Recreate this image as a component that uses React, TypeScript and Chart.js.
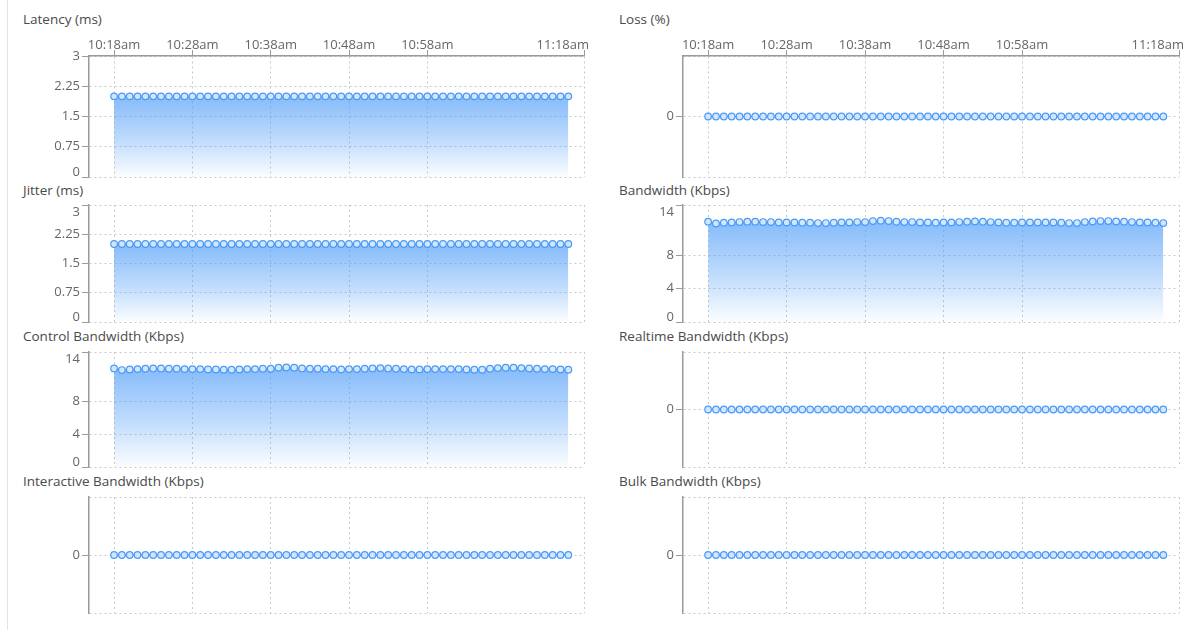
import React, { useEffect, useRef } from "react";
import { Chart, registerables } from "chart.js";

Chart.register(...registerables);

// ---------- data ----------
const times: string[] = [
  "10:18", "10:19", "10:20", "10:21", "10:22", "10:23", "10:24", "10:25", "10:26", "10:27",
  "10:28", "10:29", "10:30", "10:31", "10:32", "10:33", "10:34", "10:35", "10:36", "10:37",
  "10:38", "10:39", "10:40", "10:41", "10:42", "10:43", "10:44", "10:45", "10:46", "10:47",
  "10:48", "10:49", "10:50", "10:51", "10:52", "10:53", "10:54", "10:55", "10:56", "10:57",
  "10:58", "10:59", "11:00", "11:01", "11:02", "11:03", "11:04", "11:05", "11:06", "11:07",
  "11:08", "11:09", "11:10", "11:11", "11:12", "11:13", "11:14", "11:15", "11:16",
];

const xTickLabels: string[] = ["10:18am", "10:28am", "10:38am", "10:48am", "10:58am", "11:18am"];

const latencyValues: number[] = [
  2, 2, 2, 2, 2, 2, 2, 2, 2, 2, 2, 2, 2, 2, 2, 2, 2, 2, 2, 2,
  2, 2, 2, 2, 2, 2, 2, 2, 2, 2, 2, 2, 2, 2, 2, 2, 2, 2, 2, 2,
  2, 2, 2, 2, 2, 2, 2, 2, 2, 2, 2, 2, 2, 2, 2, 2, 2, 2, 2,
];

const jitterValues: number[] = [
  2, 2, 2, 2, 2, 2, 2, 2, 2, 2, 2, 2, 2, 2, 2, 2, 2, 2, 2, 2,
  2, 2, 2, 2, 2, 2, 2, 2, 2, 2, 2, 2, 2, 2, 2, 2, 2, 2, 2, 2,
  2, 2, 2, 2, 2, 2, 2, 2, 2, 2, 2, 2, 2, 2, 2, 2, 2, 2, 2,
];

const controlBandwidthValues: number[] = [
  12.0, 11.8, 11.88, 11.92, 11.96, 12.0, 12.0, 11.96, 11.96, 11.92,
  11.92, 11.92, 11.88, 11.88, 11.84, 11.84, 11.88, 11.92, 11.92, 11.96,
  11.96, 12.08, 12.12, 12.08, 12.0, 11.96, 11.96, 11.92, 11.92, 11.88,
  11.92, 11.92, 11.96, 12.0, 12.04, 12.0, 11.96, 11.92, 11.88, 11.88,
  11.92, 11.92, 11.92, 11.92, 11.92, 11.88, 11.84, 11.84, 11.96, 12.04,
  12.08, 12.08, 12.04, 12.0, 11.96, 11.92, 11.92, 11.88, 11.84,
];

const bandwidthValues: number[] = [
  12.0, 11.8, 11.88, 11.92, 11.96, 12.0, 12.0, 11.96, 11.96, 11.92,
  11.92, 11.92, 11.88, 11.88, 11.84, 11.84, 11.88, 11.92, 11.92, 11.96,
  11.96, 12.08, 12.12, 12.08, 12.0, 11.96, 11.96, 11.92, 11.92, 11.88,
  11.92, 11.92, 11.96, 12.0, 12.04, 12.0, 11.96, 11.92, 11.88, 11.88,
  11.92, 11.92, 11.92, 11.92, 11.92, 11.88, 11.84, 11.84, 11.96, 12.04,
  12.08, 12.08, 12.04, 12.0, 11.96, 11.92, 11.92, 11.88, 11.84,
];

const lossValues: number[] = [
  0, 0, 0, 0, 0, 0, 0, 0, 0, 0, 0, 0, 0, 0, 0, 0, 0, 0, 0, 0,
  0, 0, 0, 0, 0, 0, 0, 0, 0, 0, 0, 0, 0, 0, 0, 0, 0, 0, 0, 0,
  0, 0, 0, 0, 0, 0, 0, 0, 0, 0, 0, 0, 0, 0, 0, 0, 0, 0, 0,
];

const realtimeBandwidthValues: number[] = [
  0, 0, 0, 0, 0, 0, 0, 0, 0, 0, 0, 0, 0, 0, 0, 0, 0, 0, 0, 0,
  0, 0, 0, 0, 0, 0, 0, 0, 0, 0, 0, 0, 0, 0, 0, 0, 0, 0, 0, 0,
  0, 0, 0, 0, 0, 0, 0, 0, 0, 0, 0, 0, 0, 0, 0, 0, 0, 0, 0,
];

const interactiveBandwidthValues: number[] = [
  0, 0, 0, 0, 0, 0, 0, 0, 0, 0, 0, 0, 0, 0, 0, 0, 0, 0, 0, 0,
  0, 0, 0, 0, 0, 0, 0, 0, 0, 0, 0, 0, 0, 0, 0, 0, 0, 0, 0, 0,
  0, 0, 0, 0, 0, 0, 0, 0, 0, 0, 0, 0, 0, 0, 0, 0, 0, 0, 0,
];

const bulkBandwidthValues: number[] = [
  0, 0, 0, 0, 0, 0, 0, 0, 0, 0, 0, 0, 0, 0, 0, 0, 0, 0, 0, 0,
  0, 0, 0, 0, 0, 0, 0, 0, 0, 0, 0, 0, 0, 0, 0, 0, 0, 0, 0, 0,
  0, 0, 0, 0, 0, 0, 0, 0, 0, 0, 0, 0, 0, 0, 0, 0, 0, 0, 0,
];

const msTicks: number[] = [0, 0.75, 1.5, 2.25, 3];
const kbpsTicks: number[] = [0, 4, 8, 14];
const zeroTicks: number[] = [-1, 0, 1];
const zeroLabels: number[] = [0];

// ---------- helpers ----------
const START_MIN = 10 * 60 + 18;
function toMinutes(t: string): number {
  const m = t.match(/(\d+):(\d+)/);
  if (!m) return 0;
  return parseInt(m[1], 10) * 60 + parseInt(m[2], 10) - START_MIN;
}

const FONT = '"Open Sans", "DejaVu Sans", sans-serif';
const LINE = "#4a9bf6";
const AXIS = "#9a9a9a";
const GRID = "#c9c9c9";
const LABEL = "#666666";

interface PanelDef {
  title: string;
  values: number[];
  yMin: number;
  yMax: number;
  yTicks: number[];
  yLabels: number[];
  col: number;
  row: number;
}

const panels: PanelDef[] = [
  { title: "Latency (ms)", values: latencyValues, yMin: 0, yMax: 3, yTicks: msTicks, yLabels: msTicks, col: 0, row: 0 },
  { title: "Jitter (ms)", values: jitterValues, yMin: 0, yMax: 3, yTicks: msTicks, yLabels: msTicks, col: 0, row: 1 },
  { title: "Control Bandwidth (Kbps)", values: controlBandwidthValues, yMin: 0, yMax: 14, yTicks: kbpsTicks, yLabels: kbpsTicks, col: 0, row: 2 },
  { title: "Interactive Bandwidth (Kbps)", values: interactiveBandwidthValues, yMin: -1, yMax: 1, yTicks: zeroTicks, yLabels: zeroLabels, col: 0, row: 3 },
  { title: "Loss (%)", values: lossValues, yMin: -1, yMax: 1, yTicks: zeroTicks, yLabels: zeroLabels, col: 1, row: 0 },
  { title: "Bandwidth (Kbps)", values: bandwidthValues, yMin: 0, yMax: 14, yTicks: kbpsTicks, yLabels: kbpsTicks, col: 1, row: 1 },
  { title: "Realtime Bandwidth (Kbps)", values: realtimeBandwidthValues, yMin: -1, yMax: 1, yTicks: zeroTicks, yLabels: zeroLabels, col: 1, row: 2 },
  { title: "Bulk Bandwidth (Kbps)", values: bulkBandwidthValues, yMin: -1, yMax: 1, yTicks: zeroTicks, yLabels: zeroLabels, col: 1, row: 3 },
];

// layout (page pixels)
const colCanvasLeft = [30, 630];
const colAxisX = [89, 683];
const colRight = [584, 1179];
const rowTop = [56, 205, 352, 497];
const rowBottom = [177, 322, 467, 613];
const rowTitleTop = [10, 181, 327, 472];
const colTitleLeft = [23, 619];
const X_AXIS_H = 26;
const PAD = 3;
const RIGHT_PAD = 16;

function Panel({ p }: { p: PanelDef }) {
  const ref = useRef<HTMLCanvasElement | null>(null);
  const showX = p.row === 0;
  const canvasLeft = colCanvasLeft[p.col];
  const canvasTop = showX ? rowTop[p.row] - X_AXIS_H : rowTop[p.row] - PAD;
  const w = colRight[p.col] + RIGHT_PAD - canvasLeft;
  const h = rowBottom[p.row] + PAD - canvasTop;
  const yAxisW = colAxisX[p.col] - canvasLeft;

  useEffect(() => {
    if (!ref.current) return;
    const xTickValues = xTickLabels.map(toMinutes);
    const labelPlugin = {
      id: "panelLabels",
      afterDraw(chart: any) {
        const ctx = chart.ctx as CanvasRenderingContext2D;
        const area = chart.chartArea;
        const xs = chart.scales.x;
        const ys = chart.scales.y;
        ctx.save();
        ctx.font = `13px ${FONT}`;
        ctx.fillStyle = LABEL;
        ctx.textAlign = "right";
        ctx.textBaseline = "middle";
        p.yLabels.forEach((v) => {
          let py = ys.getPixelForValue(v);
          if (!showX) py = Math.max(py, area.top + 7);
          py = Math.min(py, area.bottom - 5);
          ctx.fillText(String(v), area.left - 9, py);
        });
        if (showX) {
          ctx.textBaseline = "alphabetic";
          xTickLabels.forEach((lab, i) => {
            const px = xs.getPixelForValue(xTickValues[i]);
            if (i === xTickLabels.length - 1) {
              ctx.textAlign = "right";
              ctx.fillText(lab, px + 5, area.top - 7);
            } else {
              ctx.textAlign = "center";
              ctx.fillText(lab, px, area.top - 7);
            }
          });
        }
        ctx.restore();
      },
    };

    const maxVal = Math.max(...p.values);
    const chart = new Chart(ref.current, {
      type: "line",
      data: {
        datasets: [
          {
            data: times.map((t, i) => ({ x: toMinutes(t), y: p.values[i] })),
            borderColor: LINE,
            borderWidth: 1.5,
            pointRadius: 3.3,
            pointBorderWidth: 1.2,
            pointBorderColor: LINE,
            pointBackgroundColor: "#d3e6fd",
            fill: "origin",
            tension: 0,
            backgroundColor: (c: any) => {
              const ch = c.chart;
              const area = ch.chartArea;
              if (!area) return "rgba(76,155,248,0.5)";
              const top = ch.scales.y.getPixelForValue(maxVal);
              const bottom = ch.scales.y.getPixelForValue(Math.max(p.yMin, 0));
              if (!(bottom > top + 1)) return "rgba(76,155,248,0.5)";
              const g = ch.ctx.createLinearGradient(0, top, 0, bottom);
              g.addColorStop(0, "rgba(76,155,248,0.68)");
              g.addColorStop(0.55, "rgba(76,155,248,0.35)");
              g.addColorStop(1, "rgba(76,155,248,0.02)");
              return g;
            },
          },
        ],
      },
      options: {
        responsive: false,
        animation: false,
        events: [],
        layout: {
          autoPadding: false,
          padding: { left: 0, right: RIGHT_PAD, top: showX ? 0 : PAD, bottom: PAD },
        },
        plugins: {
          legend: { display: false },
          tooltip: { enabled: false },
          title: { display: false },
        },
        scales: {
          x: {
            type: "linear",
            position: showX ? "top" : "bottom",
            min: -3.2,
            max: 60,
            afterBuildTicks: (scale: any) => {
              scale.ticks = xTickValues.map((v) => ({ value: v }));
            },
            afterFit: (scale: any) => {
              scale.height = showX ? X_AXIS_H : 0;
            },
            ticks: { display: false },
            grid: {
              display: true,
              color: GRID,
              lineWidth: 1,
              drawTicks: showX,
              tickLength: 6,
              tickColor: AXIS,
              tickBorderDash: [],
            },
            border: { display: showX, color: AXIS, width: 1.5, dash: [2, 3] },
          },
          y: {
            type: "linear",
            min: p.yMin,
            max: p.yMax,
            afterBuildTicks: (scale: any) => {
              scale.ticks = p.yTicks.map((v) => ({ value: v }));
            },
            afterFit: (scale: any) => {
              scale.width = yAxisW;
            },
            ticks: { display: false },
            grid: {
              display: true,
              color: GRID,
              lineWidth: 1,
              drawTicks: true,
              tickLength: 7,
              tickColor: (c: any) =>
                c.tick && p.yLabels.indexOf(c.tick.value) >= 0 ? AXIS : "rgba(0,0,0,0)",
              tickBorderDash: [],
            },
            border: { display: true, color: AXIS, width: 1.5, dash: [2, 3] },
          },
        },
      } as any,
      plugins: [labelPlugin as any],
    });
    return () => chart.destroy();
  }, []);

  return (
    <>
      <div
        style={{
          position: "absolute",
          left: colTitleLeft[p.col],
          top: rowTitleTop[p.row],
          fontFamily: FONT,
          fontSize: "13.5px",
          lineHeight: "18px",
          color: "#4a4a4a",
          whiteSpace: "nowrap",
        }}
      >
        {p.title}
      </div>
      <div style={{ position: "absolute", left: canvasLeft, top: canvasTop, width: w, height: h }}>
        <canvas ref={ref} width={w} height={h} style={{ width: w, height: h, display: "block" }} />
      </div>
    </>
  );
}

export default function App() {
  return (
    <div
      style={{
        position: "absolute",
        left: 0,
        top: 0,
        width: 1198,
        height: 630,
        background: "#ffffff",
        overflow: "hidden",
      }}
    >
      <div style={{ position: "absolute", left: 7, top: 0, width: 1, height: 630, background: "#e3e3e3" }} />
      {panels.map((p) => (
        <Panel key={p.title} p={p} />
      ))}
    </div>
  );
}
